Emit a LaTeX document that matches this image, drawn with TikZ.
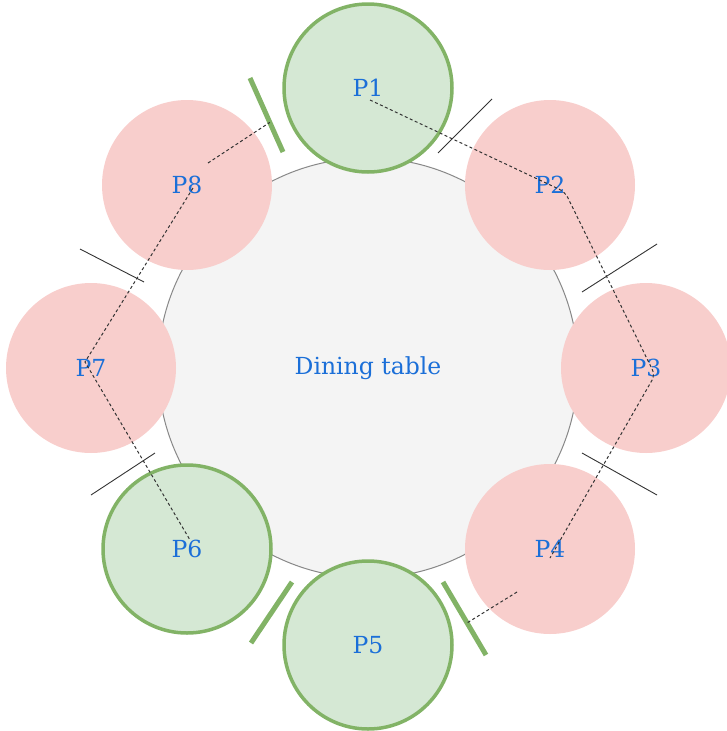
\documentclass[tikz,border=0pt]{standalone}
\usepackage{fontspec}
\setmainfont{DejaVu Serif}
\usetikzlibrary{calc}
\definecolor{tablefill}{HTML}{F4F4F4}
\definecolor{tableline}{HTML}{888888}
\definecolor{platefill}{HTML}{D5E8D4}
\definecolor{plateline}{HTML}{82B366}
\definecolor{hungryfill}{HTML}{F8CECC}
\definecolor{labelblue}{HTML}{1B6FD8}
\tikzset{
  plate/.style={circle, inner sep=0pt, minimum size=170pt},
  eating/.style={plate, fill=platefill, draw=plateline, line width=3.5pt, minimum size=168pt},
  hungry/.style={plate, fill=hungryfill},
  chopstick/.style={line width=0.9pt, draw=black!80},
  heldstick/.style={line width=5pt, draw=plateline},
  waitline/.style={dashed, dash pattern=on 3pt off 2.5pt, line width=1pt, draw=black!80},
}
\begin{document}
\begin{tikzpicture}[x=1pt,y=-1pt,every node/.style={font=\fontsize{23.5}{28}\selectfont, text=labelblue}]
\useasboundingbox (0,0) rectangle (726,731);
\node[circle, draw=tableline, fill=tablefill, line width=1pt, minimum size=420pt, inner sep=0pt] (table) at (368,368) {Dining table};
\node[eating] (p1) at (368,88) {P1};
\node[hungry] (p2) at (550,185) {P2};
\node[hungry] (p3) at (646,368) {P3};
\node[hungry] (p4) at (550,549) {P4};
\node[eating] (p5) at (368,645) {P5};
\node[eating] (p6) at (187,549) {P6};
\node[hungry] (p7) at (91,368) {P7};
\node[hungry] (p8) at (187,185) {P8};
% chopsticks
\draw[heldstick] (250,78) coordinate (k18a) -- (283,152) coordinate (k18b);
\draw[chopstick] (492,99) coordinate (k12a) -- (438,153) coordinate (k12b);
\draw[chopstick] (657,244) coordinate (k23a) -- (582,292) coordinate (k23b);
\draw[chopstick] (582,453) coordinate (k34a) -- (657,495) coordinate (k34b);
\draw[heldstick] (443,582) coordinate (k45a) -- (486,655) coordinate (k45b);
\draw[heldstick] (292,582) coordinate (k56a) -- (251,643) coordinate (k56b);
\draw[chopstick] (155,453) coordinate (k67a) -- (91,495) coordinate (k67b);
\draw[chopstick] (80,249) coordinate (k78a) -- (144,282) coordinate (k78b);
% waiting
\draw[waitline, rounded corners=6pt] ([shift={(2,12)}]p1.center) -- ([shift={(15,7)}]p2.center) -- ([shift={(9,7)}]p3.center) -- ([shift={(0,9)}]p4.center);
\draw[waitline] ([shift={(-33,43)}]p4.center) -- ($(k45a)!0.56!(k45b)$);
\draw[waitline] ([shift={(21,-22)}]p8.center) -- ($(k18a)!0.6!(k18b)$);
\draw[waitline] ([shift={(6,3)}]p8.center) -- ([shift={(-6,-6)}]p7.center) -- ([shift={(3,-9)}]p6.center);
\end{tikzpicture}
\end{document}
